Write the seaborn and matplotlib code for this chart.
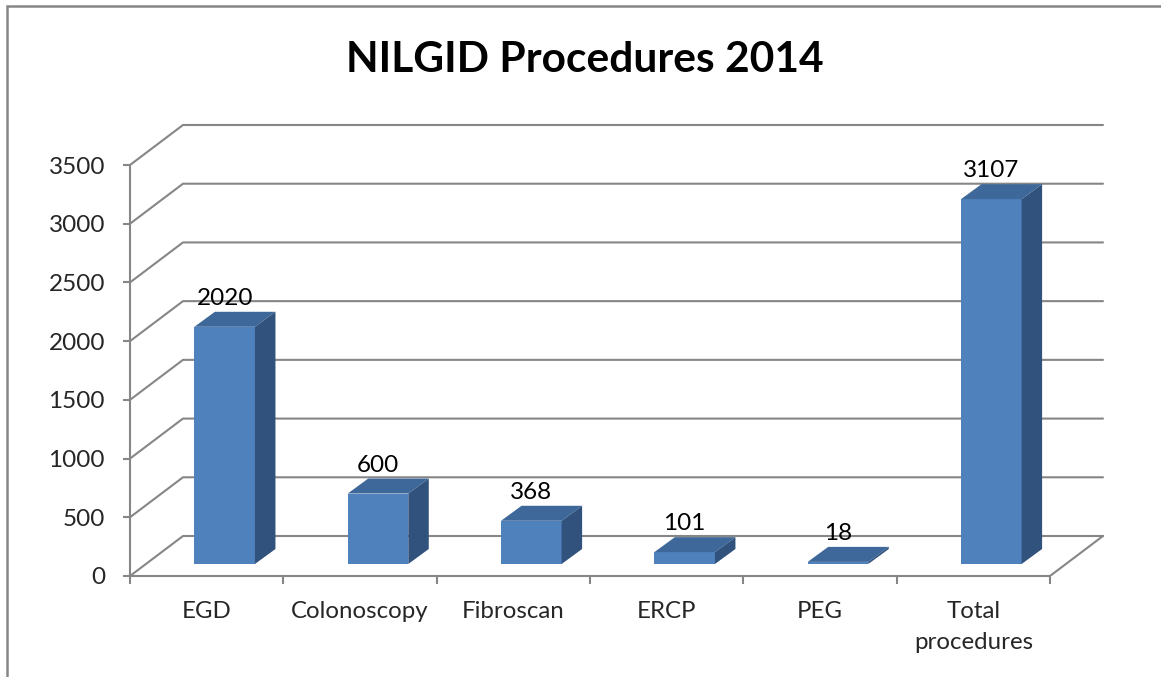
import matplotlib
matplotlib.use("Agg")
import matplotlib.pyplot as plt
from matplotlib.patches import Polygon, Rectangle
from matplotlib.lines import Line2D
from matplotlib.ticker import FixedLocator
import seaborn as sns
import pandas as pd

categories = ["EGD", "Colonoscopy", "Fibroscan", "ERCP", "PEG", "Total\nprocedures"]
counts = [2020, 600, 368, 101, 18, 3107]
y_ticks = [0, 500, 1000, 1500, 2000, 2500, 3000, 3500]
title = "NILGID Procedures 2014"

FRONT = "#4F81BD"
TOP = "#3E6899"
SIDE = "#30527D"
GRID = "#868686"

sns.set_theme(style="white")
plt.rcParams["font.family"] = ["Lato", "DejaVu Sans"]

W, H = 1161, 677
fig = plt.figure(figsize=(W / 100, H / 100), dpi=100)

# pixel geometry of the fake 3D box
px_cat = 153.33
px_unit = 411 / 3500
x0_px, y0_px = 130, 576
xmax, ymax = 5.9, 3900
ax = fig.add_axes([
    x0_px / W,
    (H - y0_px) / H,
    (xmax + 0.5) * px_cat / W,
    ymax * px_unit / H,
])

df = pd.DataFrame({"category": categories, "count": counts})
sns.barplot(data=df, x="category", y="count", width=0.395, color=FRONT,
            saturation=1, ax=ax, zorder=3)

# depth offsets (back wall and bar)
wall_dx, wall_dy = 53 / px_cat, 40 / px_unit
bar_bx, bar_by = 18 / px_cat, 12 / px_unit
bar_sx, bar_sy = 20.5 / px_cat, 15 / px_unit

n = len(categories)
left, right = -0.5, n - 0.5

for v in y_ticks:
    ax.add_line(Line2D([left, left + wall_dx, right + wall_dx], [v, v + wall_dy, v + wall_dy],
                       color=GRID, lw=1.5, zorder=1))
ax.add_line(Line2D([right, right + wall_dx], [0, wall_dy], color=GRID, lw=1.5, zorder=1))

for patch, v in zip(ax.patches, counts):
    w = patch.get_width()
    x = patch.get_x() + bar_bx
    patch.set_x(x)
    patch.set_y(bar_by)
    patch.set_linewidth(0)
    top = Polygon([(x, bar_by + v), (x + w, bar_by + v),
                   (x + w + bar_sx, bar_by + v + bar_sy), (x + bar_sx, bar_by + v + bar_sy)],
                  closed=True, facecolor=TOP, edgecolor="none", zorder=3)
    side = Polygon([(x + w, bar_by), (x + w + bar_sx, bar_by + bar_sy),
                    (x + w + bar_sx, bar_by + v + bar_sy), (x + w, bar_by + v)],
                   closed=True, facecolor=SIDE, edgecolor="none", zorder=3)
    ax.add_patch(top)
    ax.add_patch(side)
    ax.annotate(str(v), (x + w / 2, bar_by + v + bar_sy), xytext=(0, 2),
                textcoords="offset points", ha="center", va="bottom",
                fontsize=17.5, color="black", zorder=4)

ax.set_xlim(left, xmax)
ax.set_ylim(0, ymax)
ax.set_xlabel("")
ax.set_ylabel("")
ax.set_yticks(y_ticks)
ax.set_xticks(range(n))
ax.set_xticklabels(categories, fontsize=17.3, linespacing=1.6, va="top")
ax.tick_params(axis="y", labelsize=17.5, length=5, width=1.5, color=GRID, pad=13, left=True)
ax.tick_params(axis="x", which="major", length=0, pad=18)
ax.xaxis.set_minor_locator(FixedLocator([i - 0.5 for i in range(n + 1)]))
ax.tick_params(axis="x", which="minor", length=6, width=1.5, color=GRID, bottom=True)
ax.set_facecolor("none")
for s in ["top", "right"]:
    ax.spines[s].set_visible(False)
for s in ["left", "bottom"]:
    ax.spines[s].set_color(GRID)
    ax.spines[s].set_linewidth(1.5)
ax.spines["left"].set_bounds(0, 3500)
ax.spines["bottom"].set_bounds(left, right)
ax.grid(False)

fig.text(585 / W, (H - 71.7) / H, title, ha="center", va="baseline",
         fontsize=30.6, fontweight="bold", color="black")

fig.add_artist(Rectangle((7 / W, -0.02), 1.05, (H - 6) / H + 0.02, transform=fig.transFigure,
                         facecolor="none", edgecolor=GRID, lw=1.8))

fig.savefig("out.png", dpi=100)
